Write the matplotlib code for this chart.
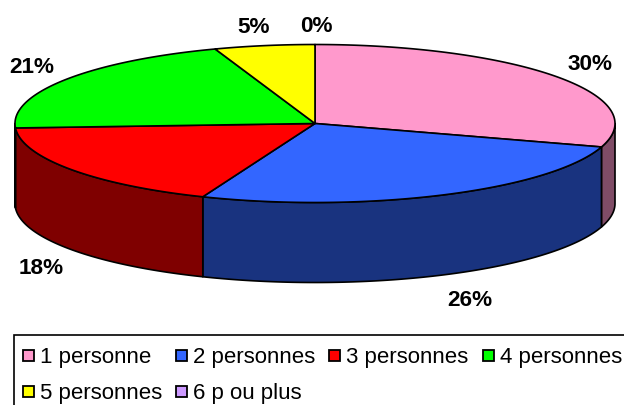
import numpy as np
import matplotlib
matplotlib.use("Agg")
import matplotlib.pyplot as plt
from matplotlib.patches import Polygon, Rectangle

labels = ["1 personne", "2 personnes", "3 personnes", "4 personnes", "5 personnes", "6 p ou plus"]
values = [29.8, 26.3, 18, 20.5, 5.4, 0]
shown = ["30%", "26%", "18%", "21%", "5%", "0%"]
top_colors = ["#FF99CC", "#3366FF", "#FF0000", "#00FF00", "#FFFF00", "#CC99FF"]
side_colors = ["#7F4C66", "#19337F", "#7F0000", "#007F00", "#7F7F00", "#664C7F"]
label_pos = [(590, 64), (470, 300), (41, 268), (32, 67), (254, 27), (316, 26)]

W, H = 624, 406
fig = plt.figure(figsize=(W / 100, H / 100), dpi=100, facecolor="white")
ax = fig.add_axes([0, 0, 1, 1])
ax.set_xlim(0, W)
ax.set_ylim(H, 0)
ax.axis("off")

cx, cy, rx, ry, depth = 315, 124.5, 300, 79, 80
total = sum(values)
fr = np.cumsum([0] + values) / total * 2 * np.pi


def rim(a0, a1, n=200):
    t = np.linspace(a0, a1, n)
    return cx + rx * np.sin(t), cy - ry * np.cos(t)


# side walls: visible only for the lower half of the ellipse
for i in range(len(values)):
    a0, a1 = max(fr[i], np.pi / 2), min(fr[i + 1], 3 * np.pi / 2)
    if a1 <= a0:
        continue
    x, y = rim(a0, a1)
    pts = np.r_[np.c_[x, y], np.c_[x[::-1], y[::-1] + depth]]
    ax.add_patch(Polygon(pts, closed=True, fc=side_colors[i], ec="black", lw=1.2, joinstyle="round"))

# top faces
for i in range(len(values)):
    if values[i] == 0:
        continue
    x, y = rim(fr[i], fr[i + 1])
    pts = np.r_[[[cx, cy]], np.c_[x, y]]
    ax.add_patch(Polygon(pts, closed=True, fc=top_colors[i], ec="black", lw=1.2, joinstyle="round"))

font = ["Liberation Sans", "DejaVu Sans"]
for s, (px, py) in zip(shown, label_pos):
    ax.text(px, py + 0.5, s, ha="center", va="center", fontsize=16.2, fontweight="bold", family=font)

# legend frame and entries
ax.add_patch(Rectangle((14, 336), 640, 90, fc="white", ec="black", lw=1.2, zorder=3))
leg_x = [23, 176, 329, 483, 23, 176]
leg_y = [358, 358, 358, 358, 394, 394]
for s, c, lx, ly in zip(labels, top_colors, leg_x, leg_y):
    ax.add_patch(Rectangle((lx, ly - 7), 11, 11, fc=c, ec="black", lw=1.3, zorder=4))
    ax.text(lx + 17, ly, s, ha="left", va="center", fontsize=16, family=font, zorder=4)

fig.savefig("out.png", dpi=100)
